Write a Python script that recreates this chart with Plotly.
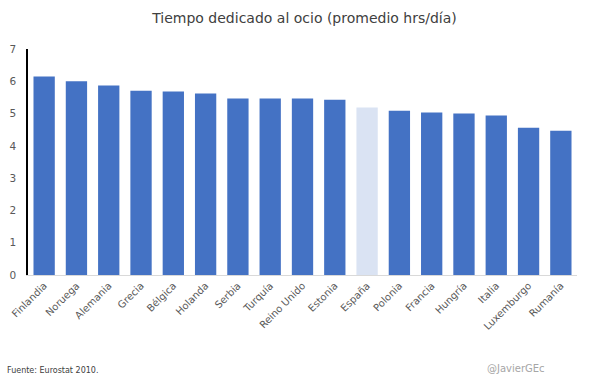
import plotly.graph_objects as go

paises = ["Finlandia", "Noruega", "Alemania", "Grecia", "Bélgica", "Holanda", "Serbia",
          "Turquía", "Reino Unido", "Estonia", "España", "Polonia", "Francia", "Hungría",
          "Italia", "Luxemburgo", "Rumanía"]
horas = [6.15, 6.0, 5.87, 5.71, 5.68, 5.62, 5.47, 5.47, 5.47, 5.43, 5.19, 5.09, 5.03, 5.0,
         4.94, 4.56, 4.47]
destacado = "España"

colores = ["#dae3f3" if p == destacado else "#4472c4" for p in paises]

font_fam = "'DejaVu Sans', sans-serif"

fig = go.Figure(go.Bar(x=paises, y=horas, marker=dict(color=colores, line=dict(width=0)),
                       width=0.66))

fig.update_layout(
    width=609, height=381,
    margin=dict(l=28, r=32, t=49, b=106),
    paper_bgcolor="white", plot_bgcolor="white",
    showlegend=False,
    font=dict(family=font_fam, color="#595959"),
    title=dict(text="Tiempo dedicado al ocio (promedio hrs/día)", x=0.5, xanchor="center",
               y=0.952, yanchor="middle", font=dict(size=14, color="#404040", family=font_fam)),
    xaxis=dict(tickangle=-45, tickfont=dict(size=10, color="#595959"), showline=True,
               linecolor="#d9d9d9", linewidth=1, showgrid=False, ticks="", automargin=False),
    yaxis=dict(range=[0, 7], dtick=1, tickfont=dict(size=10.5, color="#595959"), showline=True,
               linecolor="black", linewidth=1.5, showgrid=False, zeroline=False, ticks="",
               ticklabelstandoff=8, automargin=False),
)

fig.add_annotation(text="Fuente: Eurostat 2010.", xref="paper", yref="paper", x=-0.042, y=-0.423,
                   xanchor="left", yanchor="middle", showarrow=False,
                   font=dict(size=8, color="#404040", family=font_fam))
fig.add_annotation(text="@JavierGEc", xref="paper", yref="paper", x=0.945, y=-0.415,
                   xanchor="right", yanchor="middle", showarrow=False,
                   font=dict(size=10, color="#a6a6a6", family=font_fam))

fig.write_html("out.html", config={"displayModeBar": False},
               post_script="document.body.style.margin='0px';document.body.style.overflow='hidden';")
